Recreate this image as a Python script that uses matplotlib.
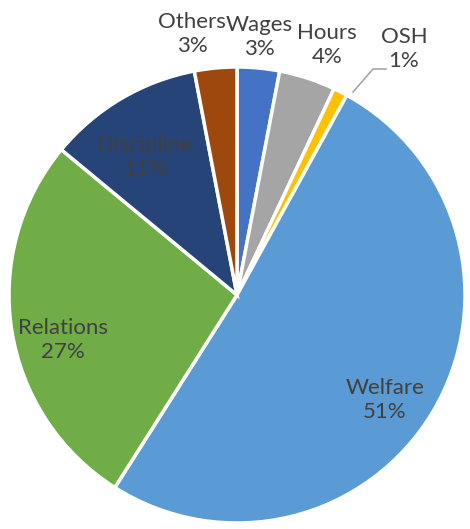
import matplotlib.pyplot as plt

plt.rcParams['font.family'] = ['Lato', 'DejaVu Sans']

categories = ['Wages', 'Hours', 'OSH', 'Welfare', 'Relations', 'Discipline', 'Others']
shares = [3, 4, 1, 51, 27, 11, 3]
colors = ['#4472C4', '#A5A5A5', '#FFC000', '#5B9BD5', '#70AD47', '#264478', '#9E480E']

# label positions in pixel space (x, y from top)
label_pos = {
    'Wages': (259, 37),
    'Hours': (327, 45),
    'OSH': (404, 49),
    'Welfare': (385, 400),
    'Relations': (63, 340),
    'Discipline': (145, 157),
    'Others': (192, 34),
}

W, H = 470, 529
fig = plt.figure(figsize=(W / 100, H / 100), dpi=100)
ax = fig.add_axes([0, 0, 1, 1])

cx, cy, r = 237, H - 295, 228
ax.pie(shares, colors=colors, startangle=90, counterclock=False,
       center=(cx, cy), radius=r, frame=True,
       wedgeprops=dict(edgecolor='white', linewidth=2.5))
ax.set_xlim(0, W)
ax.set_ylim(0, H)
ax.set_aspect('equal')
ax.axis('off')

for name, val in zip(categories, shares):
    x, y = label_pos[name]
    ax.text(x, H - y, f'{name}\n{val}%', ha='center', va='center',
            fontsize=16, color='#404040', linespacing=1.25)

# leader line for the small OSH slice
ax.plot([353, 373, 386], [H - 92, H - 69, H - 69], color='#A6A6A6', lw=1.2)

fig.savefig('out.png', dpi=100)
